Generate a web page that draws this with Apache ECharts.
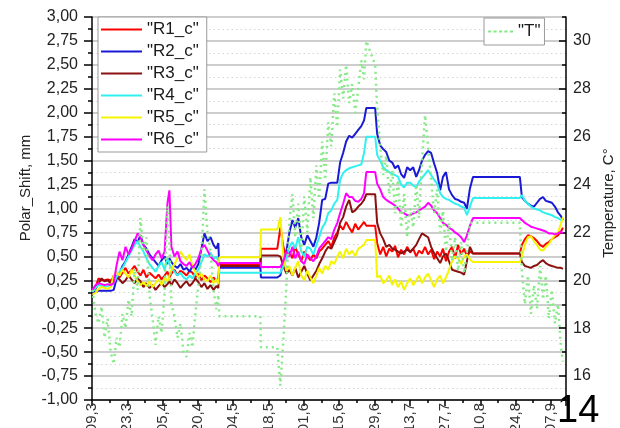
<!DOCTYPE html>
<html>
<head>
<meta charset="utf-8">
<script src="https://cdn.jsdelivr.net/npm/echarts@6/dist/echarts.min.js"></script>
<style>
html,body{margin:0;padding:0;background:#fff;}
#chart{width:620px;height:428px;}
</style>
</head>
<body>
<div id="chart"></div>
<script>
// x positions in days since first tick
const days = [0.2,1.4,2.6,3.8,5.0,6.2,7.4,8.6,9.7,10.9,12.1,13.3,14.5,15.7,16.9,18.1,19.2,20.4,21.6,22.8,24.0,25.2,26.4,27.6,28.8,29.9,30.7,31.5,32.7,33.9,35.1,36.3,37.5,38.7,39.8,41.0,42.2,43.4,44.6,45.8,47.0,48.2,49.3,50.1,
 50.5,66.8,67.0,73.5,
 74.7,75.9,77.1,78.3,79.5,80.6,81.8,83.0,84.2,85.4,86.6,87.8,89.0,90.1,91.3,92.5,93.7,94.9,96.1,97.3,98.4,99.6,100.8,102.0,103.2,104.4,105.6,106.8,107.9,
 108.8,112.3,
 113.1,114.3,115.5,116.7,117.9,119.1,120.2,121.4,122.6,123.8,125.0,126.2,127.4,128.6,129.7,130.9,132.1,133.3,134.5,135.7,136.9,138.1,139.2,140.4,141.6,142.8,144.0,145.2,146.4,147.6,148.7,149.9,
 151.1,169.7,
 170.5,171.7,172.9,174.1,175.3,176.5,177.7,178.9,180.0,181.2,182.4,183.6,184.8,186.0,186.8];

const tickLabels = ['09,3','23,3','05,4','20,4','04,5','18,5','01,6','15,6','29,6','13,7','27,7','10,8','24,8','07,9'];
const rightLabels = [16,18,20,22,24,26,28,30];

const r1 = [0.14,0.18,0.27,0.25,0.25,0.26,0.25,0.24,0.30,0.28,0.33,0.38,0.32,0.36,0.40,0.34,0.30,0.36,0.28,0.33,0.30,0.27,0.31,0.26,0.30,0.34,0.28,0.32,0.36,0.30,0.35,0.33,0.30,0.35,0.33,0.28,0.32,0.25,0.30,0.27,0.23,0.28,0.24,0.27,
 0.42,0.42,0.58,0.58,
 0.80,0.60,0.50,0.55,0.48,0.60,0.52,0.45,0.55,0.50,0.46,0.52,0.48,0.55,0.58,0.62,0.66,0.60,0.70,0.75,0.82,0.78,0.86,0.80,0.75,0.84,0.78,0.82,0.86,
 0.82,0.82,
 0.64,0.52,0.60,0.50,0.58,0.55,0.61,0.49,0.57,0.52,0.60,0.54,0.58,0.50,0.56,0.53,0.60,0.52,0.57,0.47,0.55,0.50,0.58,0.45,0.55,0.60,0.48,0.62,0.52,0.58,0.50,0.55,
 0.53,0.53,
 0.62,0.68,0.72,0.71,0.69,0.66,0.62,0.60,0.63,0.65,0.68,0.70,0.72,0.76,0.80];

const r2 = [0.12,0.13,0.14,0.14,0.14,0.14,0.14,0.15,0.26,0.32,0.40,0.45,0.52,0.60,0.68,0.65,0.72,0.62,0.58,0.52,0.48,0.44,0.40,0.46,0.50,0.42,0.48,0.44,0.40,0.38,0.42,0.36,0.38,0.34,0.40,0.36,0.42,0.58,0.74,0.66,0.70,0.62,0.58,0.64,
 0.38,0.38,0.28,0.28,
 0.30,0.45,0.55,0.75,0.88,0.80,0.90,0.70,0.62,0.72,0.66,0.60,0.70,0.85,1.09,1.10,1.26,1.27,1.27,1.27,1.48,1.58,1.70,1.76,1.74,1.78,1.82,1.86,1.92,
 2.05,2.05,
 1.78,1.66,1.62,1.59,1.50,1.48,1.42,1.45,1.36,1.32,1.43,1.40,1.43,1.33,1.40,1.50,1.56,1.60,1.58,1.47,1.37,1.19,1.33,1.38,1.20,1.14,1.10,1.09,1.07,1.06,1.00,1.21,
 1.33,1.33,
 1.12,1.08,1.05,1.03,1.02,1.06,1.10,1.12,1.08,1.07,1.06,1.02,0.96,0.92,0.88];

const r3 = [0.15,0.16,0.22,0.27,0.24,0.25,0.22,0.30,0.28,0.26,0.22,0.25,0.30,0.26,0.22,0.27,0.24,0.18,0.22,0.17,0.20,0.15,0.19,0.22,0.18,0.21,0.24,0.20,0.26,0.22,0.17,0.21,0.24,0.19,0.22,0.27,0.23,0.18,0.22,0.16,0.20,0.15,0.19,0.17,
 0.40,0.40,0.51,0.51,
 0.50,0.40,0.32,0.36,0.30,0.38,0.28,0.34,0.40,0.32,0.25,0.30,0.35,0.42,0.48,0.55,0.60,0.58,0.65,0.72,0.85,0.91,1.02,1.09,0.96,0.98,1.02,1.05,1.09,
 1.15,1.15,
 0.85,0.74,0.68,0.60,0.62,0.58,0.57,0.55,0.53,0.55,0.57,0.55,0.58,0.62,0.68,0.74,0.72,0.70,0.60,0.53,0.48,0.43,0.50,0.53,0.45,0.36,0.35,0.34,0.33,0.31,0.45,0.60,
 0.53,0.53,
 0.44,0.40,0.39,0.38,0.40,0.41,0.44,0.46,0.43,0.41,0.40,0.39,0.38,0.38,0.37];

const r4 = [0.13,0.17,0.20,0.19,0.18,0.19,0.20,0.22,0.28,0.34,0.38,0.44,0.50,0.56,0.62,0.66,0.60,0.55,0.48,0.42,0.38,0.34,0.40,0.44,0.36,0.48,0.42,0.38,0.34,0.30,0.33,0.28,0.26,0.30,0.27,0.32,0.36,0.44,0.52,0.50,0.54,0.47,0.50,0.45,
 0.33,0.33,0.33,0.33,
 0.33,0.40,0.48,0.60,0.65,0.58,0.70,0.55,0.50,0.60,0.58,0.52,0.62,0.70,0.80,0.85,0.95,0.98,1.05,1.09,1.30,1.37,1.40,1.42,1.43,1.44,1.45,1.46,1.58,
 1.75,1.75,
 1.56,1.50,1.43,1.40,1.38,1.36,1.35,1.33,1.25,1.22,1.27,1.27,1.24,1.22,1.28,1.32,1.36,1.40,1.35,1.30,1.26,1.16,1.12,1.10,1.09,1.07,1.05,1.04,1.02,1.01,0.93,1.02,
 1.11,1.11,
 1.14,1.08,1.05,1.02,1.00,0.99,0.98,0.96,0.95,0.94,0.93,0.91,0.90,0.88,0.88];

const r5 = [0.10,0.12,0.16,0.18,0.17,0.16,0.18,0.30,0.34,0.30,0.36,0.32,0.28,0.36,0.30,0.24,0.20,0.23,0.19,0.24,0.18,0.22,0.26,0.20,0.28,0.24,0.30,0.36,0.42,0.48,0.55,0.50,0.46,0.52,0.40,0.34,0.28,0.32,0.26,0.24,0.30,0.22,0.26,0.21,
 0.49,0.49,0.78,0.78,
 0.91,0.50,0.35,0.40,0.30,0.38,0.45,0.30,0.25,0.35,0.28,0.22,0.30,0.38,0.32,0.40,0.36,0.45,0.42,0.50,0.55,0.48,0.58,0.52,0.56,0.50,0.58,0.60,0.62,
 0.67,0.67,
 0.28,0.30,0.22,0.25,0.30,0.20,0.26,0.18,0.24,0.15,0.22,0.27,0.20,0.25,0.30,0.22,0.28,0.32,0.25,0.18,0.26,0.30,0.22,0.28,0.36,0.45,0.50,0.48,0.42,0.50,0.52,0.47,
 0.44,0.44,
 0.50,0.62,0.70,0.71,0.66,0.62,0.57,0.56,0.60,0.63,0.68,0.72,0.75,0.84,0.91];

const r6 = [0.15,0.20,0.22,0.21,0.20,0.21,0.20,0.22,0.40,0.55,0.46,0.60,0.52,0.58,0.66,0.74,0.70,0.62,0.56,0.50,0.46,0.52,0.56,0.48,0.55,1.05,1.19,0.60,0.50,0.55,0.45,0.42,0.40,0.44,0.38,0.42,0.48,0.58,0.62,0.56,0.50,0.46,0.44,0.40,
 0.43,0.43,0.39,0.39,
 0.39,0.45,0.55,0.50,0.60,0.48,0.55,0.45,0.42,0.52,0.48,0.45,0.50,0.58,0.62,0.66,0.70,0.68,0.78,0.85,0.95,1.05,1.16,1.12,1.12,1.08,1.07,1.10,1.16,
 1.38,1.38,
 1.26,1.20,1.12,1.09,1.07,1.05,1.03,1.00,0.96,0.95,0.93,0.93,0.95,0.96,0.98,1.00,1.02,1.06,1.03,0.98,0.95,0.90,0.85,0.83,0.80,0.78,0.75,0.73,0.70,0.65,0.72,0.82,
 0.90,0.90,
 0.88,0.85,0.83,0.81,0.80,0.79,0.78,0.77,0.76,0.74,0.74,0.73,0.74,0.76,0.74];

const temp = [19.6,18.6,18.2,18.9,17.6,18.4,17.0,16.5,17.6,17.2,18.6,18.0,19.2,18.5,20.5,19.6,22.6,21.2,21.8,19.4,18.4,17.3,18.5,17.8,19.5,23.1,21.6,19.0,18.5,17.6,18.2,17.0,16.8,17.8,17.2,18.6,19.8,21.0,23.8,22.0,21.2,19.6,18.8,19.4,
 18.5,18.5,17.2,17.2,
 15.6,17.5,19.8,22.5,23.6,21.8,23.2,21.2,23.5,22.0,24.3,22.6,24.8,23.4,25.8,24.2,26.6,25.6,27.8,26.4,28.8,27.6,29.0,27.4,28.2,27.0,28.0,29.2,28.4,
 30.0,29.0,
 27.2,25.6,24.4,25.2,23.6,24.6,22.8,24.2,22.2,23.6,21.8,23.0,22.2,24.0,22.6,25.0,26.9,25.6,24.2,22.8,23.8,22.0,22.9,21.2,22.4,20.8,21.8,20.4,21.6,20.3,21.2,22.4,
 22.4,22.4,
 20.4,19.0,20.2,18.6,19.8,18.8,20.6,19.2,20.2,18.4,19.6,18.2,19.0,17.2,16.6];

const rNames = ['"R1_c"','"R2_c"','"R3_c"','"R4_c"','"R5_c"','"R6_c"'];
const rColors = ['#ff0000','#1a1ad6','#8b1010','#30f0f0','#f5f500','#ff00ff'];
const rData = [r1, r2, r3, r4, r5, r6];
const tName = '"T"';
const tColor = '#86ea86';

const pairs = vals => days.map((d, i) => [d, vals[i]]);
const FONT = '"Liberation Sans", Arial, sans-serif';
const axisCol = { color: '#000', width: 1.5 };

const series = rData.map((vals, k) => ({
  name: rNames[k], type: 'line', yAxisIndex: 0, data: pairs(vals),
  symbol: 'none', showSymbol: false, z: 2,
  lineStyle: { width: 2, color: rColors[k] }, itemStyle: { color: rColors[k] }
}));
series.push({
  name: tName, type: 'line', yAxisIndex: 1, data: pairs(temp),
  symbol: 'none', showSymbol: false, z: 3,
  lineStyle: { width: 2.5, color: tColor, type: [2, 4] }, itemStyle: { color: tColor }
});

const chart = echarts.init(document.getElementById('chart'), null, { renderer: 'canvas' });
chart.setOption({
  animation: false,
  backgroundColor: '#fff',
  textStyle: { fontFamily: FONT },
  grid: { left: 92, right: 54, top: 17, bottom: 28, containLabel: false, outerBoundsMode: 'none' },
  legend: [{
    data: rNames.map(n => ({ name: n, icon: 'rect' })), orient: 'vertical', left: 98, top: 17,
    itemWidth: 41, itemHeight: 2, itemGap: 5, padding: [4, 8, 4, 3],
    borderColor: '#9a9a9a', borderWidth: 1, backgroundColor: '#fff',
    selectedMode: false, symbolKeepAspect: false,
    textStyle: { fontSize: 17, color: '#1a1a1a', fontFamily: FONT }
  }, {
    data: [{ name: tName, icon: 'path://M0 0h3v1h-3z M5 0h3v1h-3z M10 0h3v1h-3z M15 0h3v1h-3z M20 0h3v1h-3z' }],
    orient: 'vertical', left: 484, top: 18,
    itemWidth: 25, itemHeight: 2, padding: [5, 4, 5, 4],
    borderColor: '#9a9a9a', borderWidth: 1, backgroundColor: '#fff',
    selectedMode: false, symbolKeepAspect: false,
    textStyle: { fontSize: 17, color: '#1a1a1a', fontFamily: FONT }
  }],
  xAxis: {
    type: 'value', min: 0, max: 188, interval: 14,
    axisLine: { onZero: false, lineStyle: axisCol },
    axisTick: { length: 6, lineStyle: axisCol },
    minorTick: { show: true, splitNumber: 2, length: 3, lineStyle: axisCol },
    axisLabel: {
      rotate: 90, margin: 3, fontSize: 15, color: '#333', showMaxLabel: false,
      formatter: v => (Math.abs(v % 14) < 1e-6 && v / 14 < tickLabels.length) ? tickLabels[Math.round(v / 14)] : ''
    },
    splitLine: { show: false }
  },
  yAxis: [{
    type: 'value', position: 'left', min: -1, max: 3, interval: 0.25,
    axisLine: { show: true, lineStyle: axisCol },
    axisTick: { show: true, length: 8, lineStyle: axisCol },
    minorTick: { show: true, splitNumber: 2, length: 4, lineStyle: axisCol },
    axisLabel: { fontSize: 16, color: '#222', margin: 14, formatter: v => v.toFixed(2).replace('.', ',') },
    splitLine: { show: true, lineStyle: { color: '#bdbdbd', width: 1.5 } },
    minorSplitLine: { show: true, lineStyle: { color: '#d4d4d4', width: 1, type: [1.5, 3] } }
  }, {
    type: 'value', position: 'right', min: 15, max: 31, interval: 1,
    axisLine: { show: true, lineStyle: axisCol },
    axisTick: { show: true, inside: true, length: 4, lineStyle: axisCol },
    axisLabel: { fontSize: 16, color: '#222', margin: 7, customValues: rightLabels },
    splitLine: { show: false }
  }, {
    type: 'value', position: 'right', min: 15, max: 31, interval: 1,
    axisLine: { show: false },
    axisTick: { show: true, inside: true, length: 7, lineStyle: axisCol, customValues: rightLabels },
    axisLabel: { show: false },
    splitLine: { show: false }
  }],
  series: series,
  graphic: [{
    type: 'text', x: 26, y: 188, rotation: Math.PI / 2,
    style: { text: 'Polar_Shift, mm', fontSize: 15, fontFamily: FONT, fill: '#222', align: 'center', verticalAlign: 'middle' }
  }, {
    type: 'text', x: 609, y: 203, rotation: Math.PI / 2,
    style: { text: 'Temperature, C°', fontSize: 15, fontFamily: FONT, fill: '#222', align: 'center', verticalAlign: 'middle' }
  }, {
    type: 'text', x: 557, y: 411.5,
    style: { text: '14', fontSize: 38, fontFamily: FONT, fill: '#000', align: 'left', verticalAlign: 'middle' }
  }]
});
</script>
</body>
</html>
